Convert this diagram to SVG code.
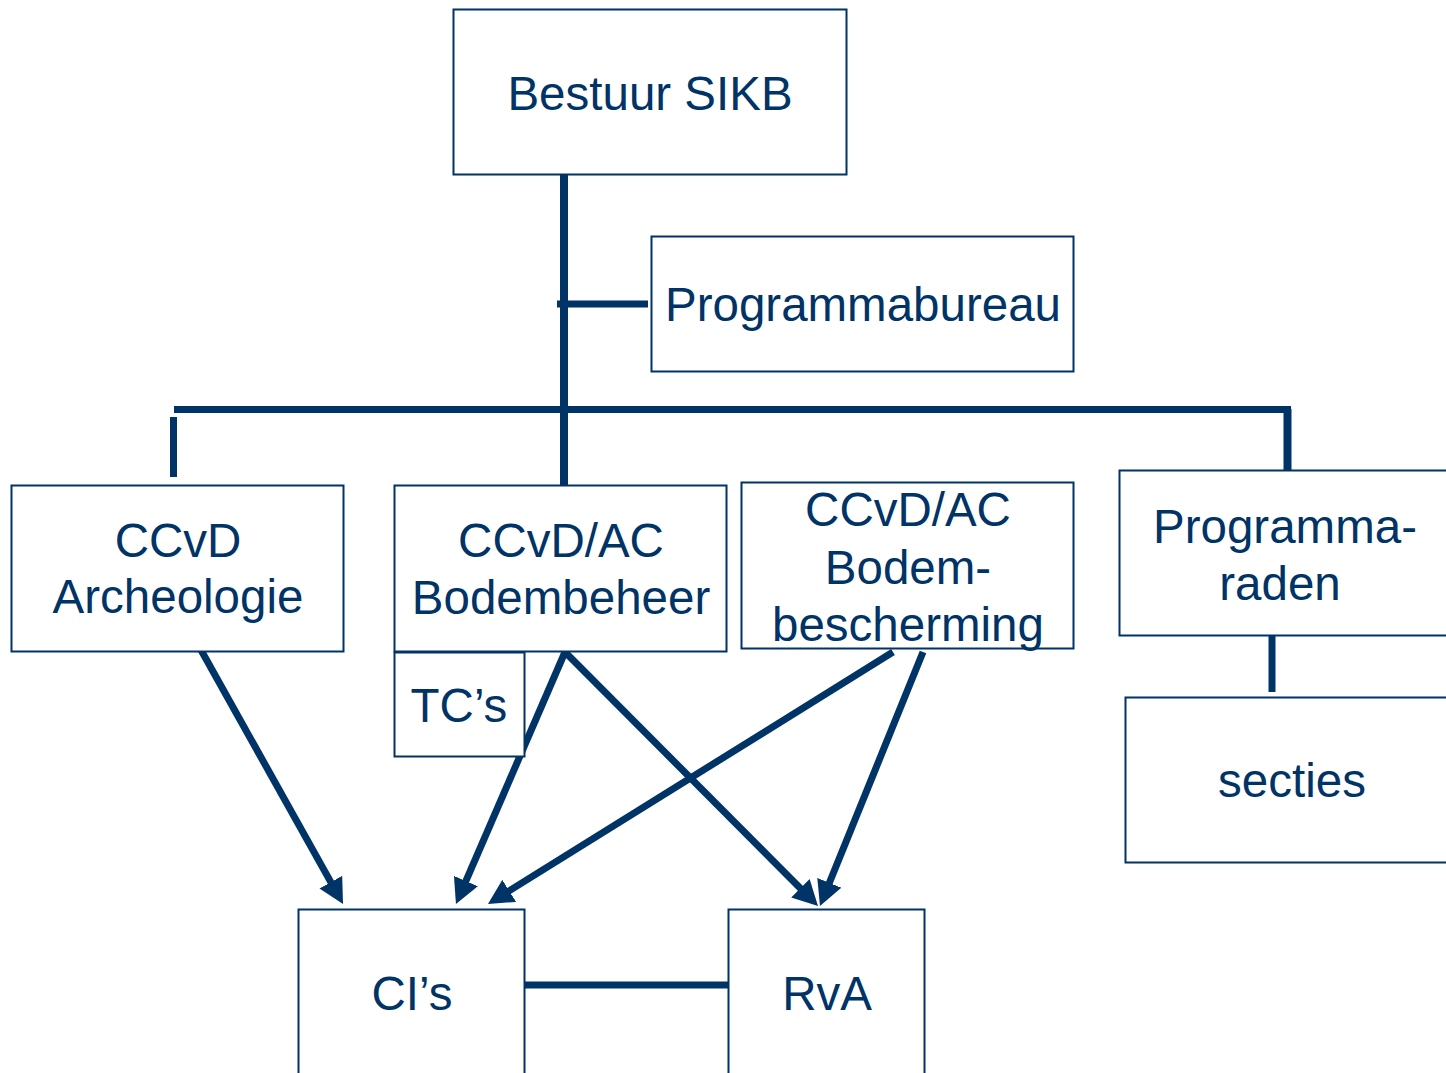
<svg xmlns="http://www.w3.org/2000/svg" width="1446" height="1073" viewBox="0 0 1446 1073">
<style>
.box{fill:#fff;stroke:#003366;stroke-width:2}
.t{font-family:"Liberation Sans",Arial,sans-serif;font-size:47.5px;fill:#003366;text-anchor:middle}
.c{stroke:#003366;stroke-width:7;fill:none}
.a{stroke:#003366;stroke-width:7;fill:none;marker-end:url(#ah)}
</style>
<defs>
<marker id="ah" markerUnits="userSpaceOnUse" markerWidth="26" markerHeight="26" refX="2" refY="13" orient="auto">
<path d="M0,0 L25,13 L0,26 z" fill="#003366"/>
</marker>
</defs>
<rect width="1446" height="1073" fill="#fff"/>
<g id="connectors">
<line class="c" x1="564" y1="175" x2="564" y2="491" style="stroke-width:8"/>
<line class="c" x1="557" y1="304" x2="648" y2="304"/>
<line class="c" x1="174" y1="409.5" x2="1291" y2="409.5"/>
<line class="c" x1="173.5" y1="417" x2="173.5" y2="477"/>
<line class="c" x1="1287.5" y1="409" x2="1287.5" y2="470" style="stroke-width:8"/>
<line class="c" x1="1272" y1="633" x2="1272" y2="692"/>
<line class="c" x1="519" y1="985" x2="728" y2="985"/>
<line class="a" x1="201" y1="650" x2="331.8" y2="883.9"/>
<line class="a" x1="565" y1="652" x2="465.1" y2="882.9"/>
<line class="a" x1="565" y1="652" x2="801.8" y2="889.7"/>
<line class="a" x1="893" y1="652" x2="507.5" y2="891.9"/>
<line class="a" x1="923" y1="652" x2="828.6" y2="884.7"/>
</g>
<g id="bestuur">
<rect class="box" x="453.5" y="9.5" width="393" height="165"/>
<text class="t" x="650" y="110">Bestuur SIKB</text>
</g>
<g id="programmabureau">
<rect class="box" x="651.5" y="236.5" width="422" height="135"/>
<text class="t" x="863" y="321">Programmabureau</text>
</g>
<g id="archeologie">
<rect class="box" x="11.5" y="485.5" width="332" height="166"/>
<text class="t" x="178" y="557">CCvD</text>
<text class="t" x="178" y="613">Archeologie</text>
</g>
<g id="bodembeheer">
<rect class="box" x="394.5" y="485.5" width="332" height="166"/>
<text class="t" x="561" y="557">CCvD/AC</text>
<text class="t" x="561" y="614">Bodembeheer</text>
</g>
<g id="tcs">
<rect class="box" x="394.5" y="652.5" width="130" height="104"/>
<text class="t" x="459" y="722">TC’s</text>
</g>
<g id="bodembescherming">
<rect class="box" x="741.5" y="482.5" width="332" height="166"/>
<text class="t" x="908" y="526">CCvD/AC</text>
<text class="t" x="908" y="584">Bodem-</text>
<text class="t" x="908" y="641">bescherming</text>
</g>
<g id="programmaraden">
<rect class="box" x="1119.5" y="470.5" width="340" height="165"/>
<text class="t" x="1285" y="543">Programma-</text>
<text class="t" x="1280" y="600">raden</text>
</g>
<g id="secties">
<rect class="box" x="1125.5" y="697.5" width="340" height="165"/>
<text class="t" x="1292" y="797">secties</text>
</g>
<g id="cis">
<rect class="box" x="298.5" y="909.5" width="226" height="180"/>
<text class="t" x="412" y="1010">CI’s</text>
</g>
<g id="rva">
<rect class="box" x="728.5" y="909.5" width="196" height="180"/>
<text class="t" x="827" y="1010">RvA</text>
</g>
</svg>
